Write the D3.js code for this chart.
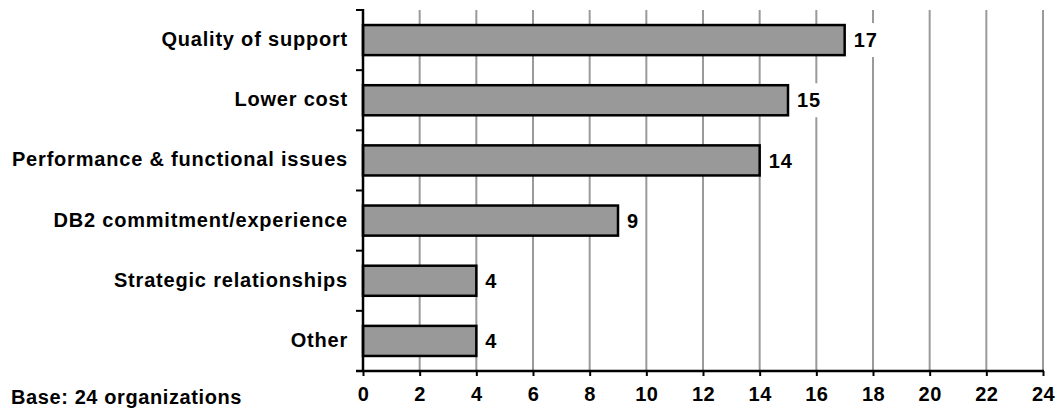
<!DOCTYPE html>
<html><head><meta charset="utf-8">
<script src="https://cdn.jsdelivr.net/npm/d3@7"></script>
<style>body{margin:0;background:#fff}svg{display:block}text{font-family:"Liberation Sans",Arial,Helvetica,sans-serif;font-weight:bold}</style>
</head><body>
<svg id="c" width="1058" height="416"></svg>
<script>
const categories = ["Quality of support","Lower cost","Performance & functional issues","DB2 commitment/experience","Strategic relationships","Other"];
const values = [17,15,14,9,4,4];
const xTicks = [0,2,4,6,8,10,12,14,16,18,20,22,24];
const baseNote = "Base: 24 organizations";

(function(){
const svg = d3.select("#c");
const mLeft = 363, mRight = 1043, mTop = 10, mBottom = 371;
const x = d3.scaleLinear().domain([0,24]).range([mLeft,mRight]);
const y = d3.scaleBand().domain(categories).range([mTop,mBottom]).paddingInner(0.5).paddingOuter(0.25);

// gridlines
svg.append("g").selectAll("line").data(xTicks.filter(d=>d>0)).join("line")
  .attr("x1",d=>x(d)).attr("x2",d=>x(d)).attr("y1",mTop).attr("y2",mBottom)
  .attr("stroke","#9a9a9a").attr("stroke-width",2);

// bars
svg.append("g").selectAll("rect").data(categories).join("rect")
  .attr("x",x(0)).attr("y",d=>y(d)).attr("width",(d,i)=>x(values[i])-x(0)).attr("height",y.bandwidth())
  .attr("fill","#999999").attr("stroke","#000").attr("stroke-width",2.5);

// value labels with white background
const vl = svg.append("g").selectAll("g").data(categories).join("g")
  .attr("transform",(d,i)=>`translate(${x(values[i])+9},${y(d)+y.bandwidth()/2})`);
vl.each(function(d,i){
  const g = d3.select(this);
  const t = g.append("text").text(values[i]).attr("font-size",20).attr("letter-spacing",1).attr("dy","0.36em");
  const w = t.node().getComputedTextLength();
  g.insert("rect","text").attr("x",-2).attr("y",-17).attr("width",w+4).attr("height",34).attr("fill","#fff");
});

// y axis
const yAxis = d3.axisLeft(y).tickSize(0).tickPadding(15);
const ya = svg.append("g").attr("transform",`translate(${mLeft},0)`).call(yAxis);
ya.select(".domain").remove();
ya.selectAll("text").attr("font-size",20).attr("letter-spacing",0.8).attr("dy","0.3em").attr("fill","#000").style("font-family",null);
const bounds = categories.map(d=>y(d)-y.step()*0.25).concat([mBottom]);
svg.append("g").selectAll("line").data(bounds).join("line")
  .attr("x1",mLeft-7).attr("x2",mLeft).attr("y1",d=>d).attr("y2",d=>d).attr("stroke","#000").attr("stroke-width",2);
svg.append("line").attr("x1",mLeft).attr("x2",mLeft).attr("y1",mTop-1).attr("y2",mBottom)
  .attr("stroke","#000").attr("stroke-width",2.5);

// x axis
const xAxis = d3.axisBottom(x).tickValues(xTicks).tickSize(5).tickPadding(14).tickSizeOuter(0);
const xa = svg.append("g").attr("transform",`translate(0,${mBottom})`).call(xAxis);
xa.select(".domain").remove();
xa.selectAll(".tick line").attr("stroke","#000").attr("stroke-width",2);
xa.selectAll("text").attr("font-size",20).attr("letter-spacing",0.5).attr("fill","#000").attr("dy","0.55em").style("font-family",null);
svg.append("line").attr("x1",mLeft-7).attr("x2",mRight+1).attr("y1",mBottom).attr("y2",mBottom)
  .attr("stroke","#000").attr("stroke-width",2.5);

svg.append("text").attr("x",11).attr("y",404).attr("font-size",20).attr("letter-spacing",0.6).text(baseNote);
})();
</script>
</body></html>
